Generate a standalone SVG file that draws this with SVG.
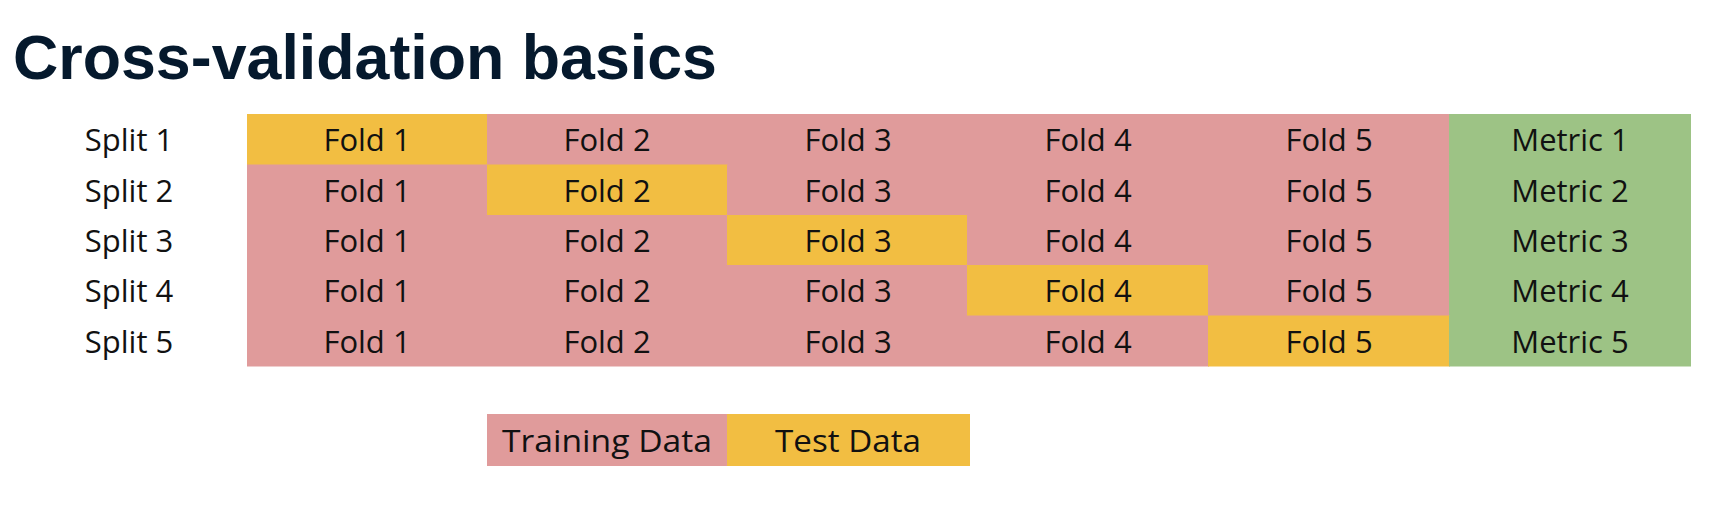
<svg xmlns="http://www.w3.org/2000/svg" width="1724" height="510" viewBox="0 0 1724 510">
<style>
.tr{fill:#e09b9b}
.te{fill:#f2be42}
.me{fill:#9dc385}
.t{font-family:"Open Sans","Liberation Sans",sans-serif;font-size:31px;fill:#111;text-anchor:middle}
.title{font-family:"Liberation Sans",sans-serif;font-weight:bold;font-size:63px;fill:#05192d}
</style>
<rect width="1724" height="510" fill="#fff"/>
<text class="title" x="13" y="79" textLength="704" lengthAdjust="spacingAndGlyphs">Cross-validation basics</text>
<g id="labels">
<text class="t" x="129" y="151">Split 1</text>
<text class="t" x="129" y="201.5">Split 2</text>
<text class="t" x="129" y="252">Split 3</text>
<text class="t" x="129" y="302">Split 4</text>
<text class="t" x="129" y="352.5">Split 5</text>
</g>
<g id="row1">
<rect class="te" x="247" y="114" width="241" height="51"/>
<rect class="tr" x="487" y="114" width="963" height="51"/>
<rect class="me" x="1449" y="114" width="242" height="51"/>
<text class="t" x="367" y="151">Fold 1</text><text class="t" x="607" y="151">Fold 2</text><text class="t" x="848" y="151">Fold 3</text><text class="t" x="1088" y="151">Fold 4</text><text class="t" x="1329" y="151">Fold 5</text><text class="t" x="1570" y="151">Metric 1</text>
</g>
<g id="row2">
<rect class="tr" x="247" y="164.5" width="241" height="51"/>
<rect class="te" x="487" y="164.5" width="241" height="51"/>
<rect class="tr" x="727" y="164.5" width="723" height="51"/>
<rect class="me" x="1449" y="164.5" width="242" height="51"/>
<text class="t" x="367" y="201.5">Fold 1</text><text class="t" x="607" y="201.5">Fold 2</text><text class="t" x="848" y="201.5">Fold 3</text><text class="t" x="1088" y="201.5">Fold 4</text><text class="t" x="1329" y="201.5">Fold 5</text><text class="t" x="1570" y="201.5">Metric 2</text>
</g>
<g id="row3">
<rect class="tr" x="247" y="215" width="481" height="51"/>
<rect class="te" x="727" y="215" width="241" height="51"/>
<rect class="tr" x="967" y="215" width="483" height="51"/>
<rect class="me" x="1449" y="215" width="242" height="51"/>
<text class="t" x="367" y="252">Fold 1</text><text class="t" x="607" y="252">Fold 2</text><text class="t" x="848" y="252">Fold 3</text><text class="t" x="1088" y="252">Fold 4</text><text class="t" x="1329" y="252">Fold 5</text><text class="t" x="1570" y="252">Metric 3</text>
</g>
<g id="row4">
<rect class="tr" x="247" y="265" width="721" height="51"/>
<rect class="te" x="967" y="265" width="242" height="51"/>
<rect class="tr" x="1208" y="265" width="242" height="51"/>
<rect class="me" x="1449" y="265" width="242" height="51"/>
<text class="t" x="367" y="302">Fold 1</text><text class="t" x="607" y="302">Fold 2</text><text class="t" x="848" y="302">Fold 3</text><text class="t" x="1088" y="302">Fold 4</text><text class="t" x="1329" y="302">Fold 5</text><text class="t" x="1570" y="302">Metric 4</text>
</g>
<g id="row5">
<rect class="tr" x="247" y="315.5" width="962" height="51"/>
<rect class="te" x="1208" y="315.5" width="242" height="51"/>
<rect class="me" x="1449" y="315.5" width="242" height="51"/>
<text class="t" x="367" y="352.5">Fold 1</text><text class="t" x="607" y="352.5">Fold 2</text><text class="t" x="848" y="352.5">Fold 3</text><text class="t" x="1088" y="352.5">Fold 4</text><text class="t" x="1329" y="352.5">Fold 5</text><text class="t" x="1570" y="352.5">Metric 5</text>
</g>
<g id="legend">
<rect class="tr" x="487" y="414" width="241" height="52"/>
<rect class="te" x="727" y="414" width="243" height="52"/>
<text class="t" x="607" y="451.5" textLength="210" lengthAdjust="spacingAndGlyphs">Training Data</text>
<text class="t" x="848" y="451.5" textLength="146" lengthAdjust="spacingAndGlyphs">Test Data</text>
</g>
<g id="connectors"/>
</svg>
